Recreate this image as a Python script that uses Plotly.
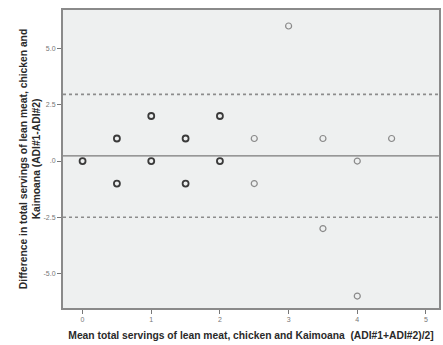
import plotly.graph_objects as go

# Bland-Altman data: mean of the two ADI recalls vs. their difference
mean_servings = [0, 0.5, 0.5, 1, 1, 1.5, 1.5, 2, 2, 2.5, 2.5, 3, 3.5, 3.5, 4, 4, 4.5]
diff_servings = [0, 1, -1, 0, 2, 1, -1, 0, 2, 1, -1, 6, 1, -3, 0, -6, 1]
# cases stacked at each point (stacked cases print darker)
n_cases = [2, 2, 2, 2, 2, 2, 2, 2, 2, 1, 1, 1, 1, 1, 1, 1, 1]

mean_diff = 0.23
upper_loa = 2.96
lower_loa = -2.50

x_ticks = [0, 1, 2, 3, 4, 5]
y_ticks = [5.0, 2.5, 0.0, -2.5, -5.0]
y_tick_text = ["5.0", "2.5", ".0", "-2.5", "-5.0"]

x_range = [-0.285, 5.19]
y_range = [-6.53, 6.71]

line_colors = ["#3a3a3a" if n > 1 else "#8a8a8a" for n in n_cases]
line_widths = [1.8 if n > 1 else 1.2 for n in n_cases]

fig = go.Figure()

# mean difference and limits of agreement
fig.add_trace(go.Scatter(x=x_range, y=[mean_diff, mean_diff], mode="lines",
                         line=dict(color="#7a7a7a", width=1.2),
                         hoverinfo="skip", showlegend=False))
for lim in (upper_loa, lower_loa):
    fig.add_trace(go.Scatter(x=x_range, y=[lim, lim], mode="lines",
                             line=dict(color="#8c8c8c", width=1.6, dash="dot"),
                             hoverinfo="skip", showlegend=False))

fig.add_trace(go.Scatter(
    x=mean_servings, y=diff_servings, mode="markers",
    marker=dict(symbol="circle-open", size=6, color=line_colors,
                line=dict(color=line_colors, width=line_widths)),
    showlegend=False))

title_font = dict(family="Liberation Sans, Arial, sans-serif", size=10.3, color="#2a2a2a")
tick_font = dict(family="Liberation Sans, Arial, sans-serif", size=7, color="#777777")

fig.update_layout(
    width=443, height=345,
    margin=dict(l=63, r=2, t=10, b=37),
    paper_bgcolor="white",
    plot_bgcolor="#eef0f0",
    xaxis=dict(
        range=x_range, tickvals=x_ticks, ticktext=[str(t) for t in x_ticks],
        showgrid=False, zeroline=False,
        showline=True, linecolor="#8a8a8a", linewidth=2, mirror=True,
        ticks="outside", ticklen=4, tickcolor="#777777", tickwidth=1,
        tickfont=tick_font,
        title=dict(text="<b>Mean total servings of lean meat, chicken and Kaimoana  (ADI#1+ADI#2)/2]</b>",
                   font=title_font, standoff=9),
    ),
    yaxis=dict(
        range=y_range, tickvals=y_ticks, ticktext=y_tick_text,
        showgrid=False, zeroline=False,
        showline=True, linecolor="#8a8a8a", linewidth=2, mirror=True,
        ticks="outside", ticklen=4, tickcolor="#777777", tickwidth=1,
        tickfont=tick_font,
        title=dict(text="<b>Difference in total servings of lean meat, chicken and<br>Kaimoana (ADI#1-ADI#2)</b>",
                   font=title_font, standoff=1),
    ),
)

fig.write_html("out.html")
